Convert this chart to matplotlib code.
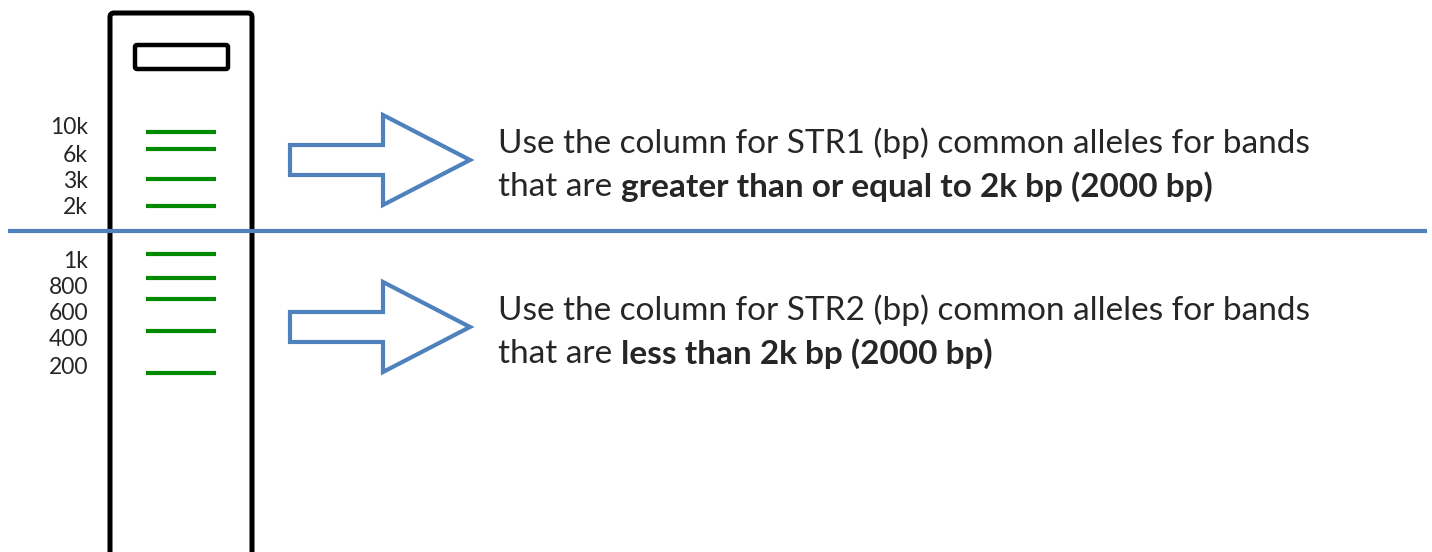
import matplotlib
matplotlib.use("Agg")
import matplotlib.pyplot as plt
from matplotlib.patches import FancyBboxPatch, Polygon

# ladder: band labels and where each band sits in the lane (pixels from top)
ladder_labels = ["10k", "6k", "3k", "2k", "1k", "800", "600", "400", "200"]
band_y = [132, 149, 179, 206, 254, 278, 299, 331, 373]
label_y = [128, 155, 181, 208, 262, 287, 314, 340, 367]

notes = [
    ("Use the column for STR1 (bp) common alleles for bands", "that are ",
     "greater than or equal to 2k bp (2000 bp)"),
    ("Use the column for STR2 (bp) common alleles for bands", "that are ",
     "less than 2k bp (2000 bp)"),
]
arrow_tip_y = [160, 327]

BLUE = "#4f81bd"
GREEN = "#008a00"
TEXT = "#262626"

plt.rcParams["font.family"] = ["Lato", "DejaVu Sans"]

fig = plt.figure(figsize=(14.32, 5.52), dpi=100)
ax = fig.add_axes([0, 0, 1, 1])
ax.set_xlim(0, 1432)
ax.set_ylim(552, 0)
ax.axis("off")

# gel lane
lane = FancyBboxPatch((110, 13), 142, 545, boxstyle="round,pad=0,rounding_size=4",
                      fc="white", ec="black", lw=3.6, zorder=2)
ax.add_patch(lane)
well = FancyBboxPatch((135, 45), 93, 24, boxstyle="round,pad=0,rounding_size=2",
                      fc="white", ec="black", lw=3.2, zorder=3)
ax.add_patch(well)

for y in band_y:
    ax.plot([146, 216], [y, y], color=GREEN, lw=3.0, solid_capstyle="butt", zorder=3)

for lab, y in zip(ladder_labels, label_y):
    ax.text(88, y, lab, ha="right", va="center", fontsize=16.5, color=TEXT)

# divider
ax.plot([8, 1427], [231, 231], color=BLUE, lw=3.0, zorder=4, solid_capstyle="butt")

# arrows + notes
for (line1, pre, bold), ty in zip(notes, arrow_tip_y):
    pts = [(290, ty - 15), (383, ty - 15), (383, ty - 45), (470, ty),
           (383, ty + 45), (383, ty + 15), (290, ty + 15)]
    ax.add_patch(Polygon(pts, closed=True, fc="white", ec=BLUE, lw=3.0,
                         joinstyle="miter", zorder=3))
    ax.text(498, ty - 17, line1, ha="left", va="center", fontsize=24, color=TEXT)
    t = ax.text(498, ty + 27, pre, ha="left", va="center", fontsize=24, color=TEXT)
    ax.annotate(bold, xy=(1, 0), xycoords=t, ha="left", va="bottom",
                fontsize=24, fontweight="bold", color=TEXT)

fig.savefig("out.png", dpi=100)
